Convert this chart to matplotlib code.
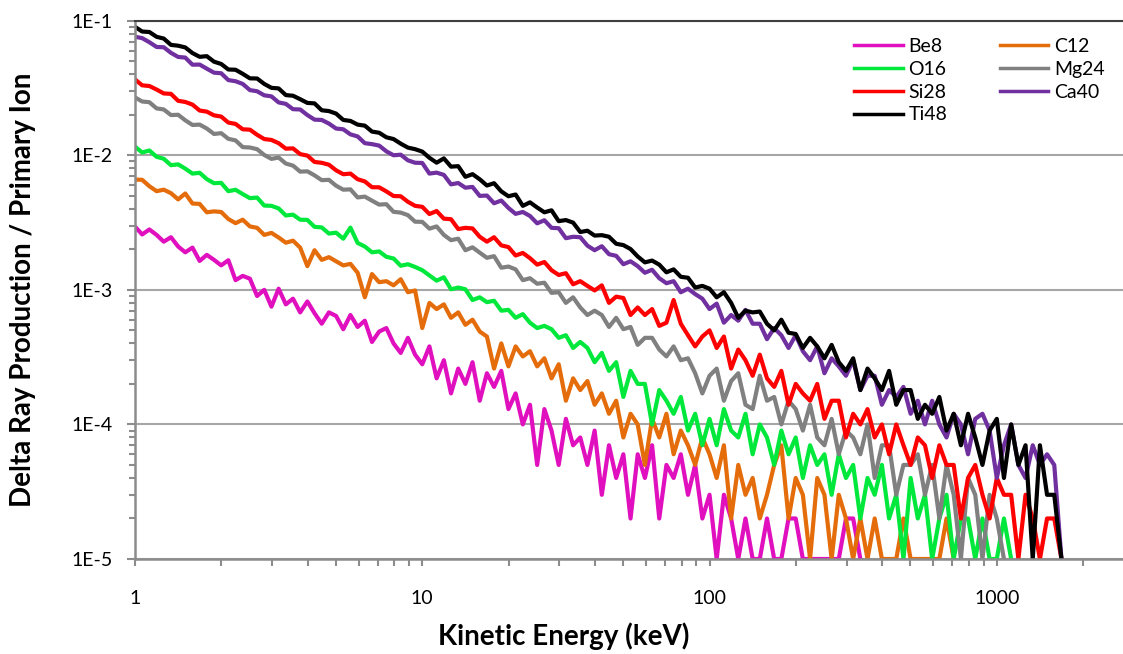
import matplotlib.pyplot as plt
import numpy as np
from matplotlib.ticker import FixedLocator, LogLocator, NullFormatter, FuncFormatter

plt.rcParams['font.family'] = ['Lato', 'DejaVu Sans']

# bin energies (keV)
energy = [1.000, 1.059, 1.122, 1.189, 1.259, 1.334, 1.413, 1.496, 1.585, 1.679,
          1.778, 1.884, 1.995, 2.113, 2.239, 2.371, 2.512, 2.661, 2.818, 2.985,
          3.162, 3.350, 3.548, 3.758, 3.981, 4.217, 4.467, 4.732, 5.012, 5.309,
          5.623, 5.957, 6.310, 6.683, 7.079, 7.499, 7.943, 8.414, 8.913, 9.441,
          10.00, 10.59, 11.22, 11.89, 12.59, 13.34, 14.13, 14.96, 15.85, 16.79,
          17.78, 18.84, 19.95, 21.13, 22.39, 23.71, 25.12, 26.61, 28.18, 29.85,
          31.62, 33.50, 35.48, 37.58, 39.81, 42.17, 44.67, 47.32, 50.12, 53.09,
          56.23, 59.57, 63.10, 66.83, 70.79, 74.99, 79.43, 84.14, 89.13, 94.41,
          100.0, 105.9, 112.2, 118.9, 125.9, 133.4, 141.3, 149.6, 158.5, 167.9,
          177.8, 188.4, 199.5, 211.3, 223.9, 237.1, 251.2, 266.1, 281.8, 298.5,
          316.2, 335.0, 354.8, 375.8, 398.1, 421.7, 446.7, 473.2, 501.2, 530.9,
          562.3, 595.7, 631.0, 668.3, 707.9, 749.9, 794.3, 841.4, 891.3, 944.1,
          1000, 1059, 1122, 1189, 1259, 1334, 1413, 1496, 1585, 1679]

# delta rays per bin, in units of 1E-5 per primary ion
be8 = [295, 258, 281, 256, 228, 246, 210, 190, 206, 164, 182, 167, 152, 166, 118, 127, 121, 90, 100, 75,
       102, 78, 86, 68, 82, 67, 56, 68, 64, 51, 65, 53, 59, 41, 49, 52, 40, 34, 44, 33,
       28, 38, 22, 30, 17, 26, 20, 29, 15, 24, 19, 25, 13, 17, 10, 14, 5, 13, 9, 5,
       11, 7, 8, 5, 9, 3, 7, 4, 6, 2, 6, 4, 7, 2, 5, 4, 6, 3, 5, 2,
       3, 1, 3, 2, 1, 2, 1, 1, 2, 1, 1, 2, 2, 1, 1, 1, 1, 1, 1, 2, 2, 1]

c12 = [660, 657, 589, 541, 555, 523, 470, 520, 438, 435, 377, 383, 379, 336, 313, 332, 296, 289, 256, 265,
       245, 224, 232, 206, 150, 197, 167, 175, 163, 152, 156, 134, 88, 131, 114, 116, 108, 120, 96, 99,
       52, 80, 72, 78, 62, 68, 55, 60, 49, 45, 26, 40, 27, 38, 32, 35, 27, 31, 22, 28,
       15, 22, 18, 21, 14, 17, 12, 15, 8, 12, 10, 5, 11, 8, 12, 6, 9, 7, 5, 8,
       6, 4, 7, 2, 5, 3, 4, 2, 3, 5, 7, 2, 4, 3, 1, 4, 3, 1, 3, 2,
       1, 2, 1, 2, 1, 1, 1, 2, 1, 1, 1, 1, 1, 2, 1]

o16 = [1160, 1049, 1085, 974, 942, 844, 856, 796, 731, 741, 665, 620, 624, 541, 554, 515, 480, 485, 423, 421,
       403, 357, 362, 332, 331, 294, 291, 262, 266, 240, 290, 223, 210, 190, 193, 176, 171, 151, 155, 148,
       140, 128, 117, 124, 101, 104, 101, 84, 88, 81, 83, 70, 71, 62, 66, 57, 52, 54, 51, 44,
       46, 37, 41, 37, 29, 34, 25, 29, 16, 25, 20, 20, 10, 18, 15, 12, 16, 9, 12, 7,
       11, 7, 13, 9, 8, 12, 6, 10, 8, 5, 9, 6, 8, 4, 7, 5, 6, 3, 6, 4,
       5, 2, 4, 3, 5, 2, 3, 1, 4, 2, 3, 1, 2, 3, 1, 2, 2, 1, 2, 1, 1, 2, 1]

mg24 = [2690, 2510, 2480, 2230, 2190, 1990, 2000, 1820, 1680, 1690, 1580, 1440, 1460, 1325, 1290, 1150, 1142, 1110, 1005, 940,
        962, 868, 838, 756, 760, 709, 653, 657, 594, 555, 558, 486, 493, 460, 430, 433, 380, 375, 359, 321,
        320, 285, 296, 256, 234, 240, 197, 207, 189, 173, 178, 146, 149, 142, 118, 122, 111, 113, 95, 96,
        80, 88, 74, 65, 70, 65, 53, 62, 51, 53, 39, 44, 44, 36, 32, 38, 30, 31, 24, 17,
        23, 26, 15, 21, 24, 14, 13, 23, 15, 16, 10, 15, 13, 9, 14, 8, 7, 11, 6, 9,
        8, 6, 10, 4, 7, 7, 3, 5, 5, 6, 3, 5, 2, 5, 3, 1, 4, 3, 1, 3, 2, 1]

si28 = [3660, 3310, 3270, 3080, 2880, 2860, 2540, 2490, 2380, 2150, 2110, 1980, 1940, 1750, 1710, 1560, 1550, 1420, 1320, 1300,
        1230, 1120, 1125, 1020, 995, 892, 879, 851, 773, 723, 731, 664, 639, 579, 578, 539, 498, 496, 451, 421,
        414, 366, 385, 338, 335, 283, 289, 286, 248, 228, 246, 214, 208, 180, 188, 172, 154, 161, 140, 129,
        133, 110, 116, 107, 99, 108, 80, 89, 87, 65, 74, 65, 72, 54, 57, 84, 56, 46, 38, 45,
        50, 37, 45, 26, 36, 30, 23, 33, 22, 19, 25, 14, 20, 17, 15, 20, 11, 15, 15, 8,
        12, 10, 13, 8, 10, 6, 10, 7, 5, 8, 7, 4, 7, 5, 5, 2, 4, 5, 3, 2,
        4, 3, 3, 1, 3, 2, 1, 2, 2, 1]

ca40 = [7600, 7420, 6920, 6380, 6350, 5770, 5380, 5320, 4710, 4720, 4400, 4110, 4070, 3620, 3550, 3390, 3050, 2990, 2790, 2740,
        2470, 2410, 2200, 2190, 1990, 1840, 1830, 1720, 1580, 1560, 1430, 1380, 1230, 1210, 1180, 1070, 1000, 1010, 917, 880,
        877, 731, 743, 715, 608, 622, 574, 582, 499, 502, 440, 461, 406, 367, 379, 354, 312, 329, 289, 287,
        242, 248, 246, 213, 197, 211, 184, 179, 155, 163, 150, 134, 141, 122, 112, 116, 96, 102, 93, 86,
        72, 79, 57, 65, 59, 71, 56, 56, 43, 52, 46, 37, 46, 35, 30, 38, 24, 31, 27, 23,
        30, 18, 23, 23, 14, 18, 16, 19, 12, 15, 10, 15, 10, 8, 12, 10, 6, 11, 12, 9,
        4, 7, 10, 5, 4, 7, 5, 6, 5, 1]

ti48 = [9000, 8310, 8240, 7590, 7370, 6610, 6520, 6330, 5750, 5390, 5450, 4960, 4770, 4340, 4320, 4030, 3730, 3720, 3390, 3170,
        3140, 2800, 2770, 2610, 2450, 2430, 2160, 2130, 2040, 1830, 1800, 1690, 1660, 1500, 1470, 1360, 1320, 1220, 1140, 1110,
        1065, 958, 881, 948, 823, 830, 692, 724, 663, 596, 620, 539, 496, 511, 421, 447, 409, 377, 390, 324,
        330, 316, 269, 275, 253, 255, 248, 220, 215, 201, 177, 160, 165, 154, 135, 142, 125, 123, 104, 107,
        102, 88, 96, 80, 62, 70, 68, 69, 56, 50, 60, 48, 47, 37, 44, 38, 31, 39, 29, 25,
        31, 18, 26, 22, 18, 25, 14, 18, 18, 11, 14, 12, 16, 9, 12, 7, 12, 8, 5, 9,
        11, 4, 10, 5, 7, 1, 7, 3, 3, 1]

names = ['Be8', 'C12', 'O16', 'Mg24', 'Si28', 'Ca40', 'Ti48']
series = [be8, c12, o16, mg24, si28, ca40, ti48]
colors = ['#E010BE', '#E46C0A', '#00E83C', '#808080', '#FF0000', '#7030A0', '#000000']

W, H = 1123, 654
fig = plt.figure(figsize=(W / 100, H / 100), dpi=100)
ax = fig.add_axes([135 / W, 1 - 559 / H, 1 - 135 / W, (559 - 20.7) / H])

lines = {}
for name, vals, col in zip(names, series, colors):
    y = np.array(vals) * 1e-5
    ln, = ax.plot(energy[:len(vals)], y, color=col, lw=3.0,
                  solid_joinstyle='round', label=name)
    lines[name] = ln

ax.set_xscale('log')
ax.set_yscale('log')
ax.set_xlim(1, 2750)
ax.set_ylim(1e-5, 1e-1)

ax.yaxis.set_major_locator(FixedLocator([1e-5, 1e-4, 1e-3, 1e-2, 1e-1]))
ax.yaxis.set_major_formatter(FuncFormatter(lambda v, p: f'1E{int(round(np.log10(v)))}'))
ax.yaxis.set_minor_locator(LogLocator(base=10, subs=range(2, 10), numticks=30))
ax.yaxis.set_minor_formatter(NullFormatter())
ax.xaxis.set_major_locator(FixedLocator([1, 10, 100, 1000]))
ax.xaxis.set_major_formatter(FuncFormatter(lambda v, p: f'{int(round(v))}'))
ax.xaxis.set_minor_locator(LogLocator(base=10, subs=range(2, 10), numticks=30))
ax.xaxis.set_minor_formatter(NullFormatter())

ax.set_axisbelow(True)
ax.yaxis.grid(True, which='major', color='#A6A6A6', lw=1.5)
for s in ['left', 'bottom']:
    ax.spines[s].set_color('#8C8C8C')
    ax.spines[s].set_linewidth(1.8)
ax.spines['right'].set_visible(False)
ax.spines['top'].set_color('#3F3F3F')
ax.spines['top'].set_linewidth(1.5)

ax.tick_params(axis='y', which='major', length=6, width=1.5, color='#8C8C8C', pad=10, labelsize=14)
ax.tick_params(axis='y', which='minor', length=4, width=1.5, color='#8C8C8C')
ax.tick_params(axis='x', which='major', length=5, width=1.5, color='#8C8C8C', pad=17, labelsize=14)
ax.tick_params(axis='x', which='minor', length=5, width=1.5, color='#8C8C8C')

order = ['Be8', 'O16', 'Si28', 'Ti48', 'C12', 'Mg24', 'Ca40']
leg = ax.legend([lines[n] for n in order], order, ncol=2, loc='upper left',
                bbox_to_anchor=(854 / W, 1 - 38 / H), bbox_transform=fig.transFigure,
                frameon=False, fontsize=14, handlelength=2.5, handletextpad=0.3,
                columnspacing=2.7, labelspacing=0.3, borderpad=0, borderaxespad=0)
for h in leg.get_lines():
    h.set_linewidth(2.5)

fig.text(564 / W, 1 - 636 / H, 'Kinetic Energy (keV)', fontsize=20, fontweight='bold',
         ha='center', va='center')
fig.text(23 / W, 1 - 290 / H, 'Delta Ray Production / Primary Ion', fontsize=20,
         fontweight='bold', rotation=90, ha='center', va='center')

fig.savefig('out.png', dpi=100)
